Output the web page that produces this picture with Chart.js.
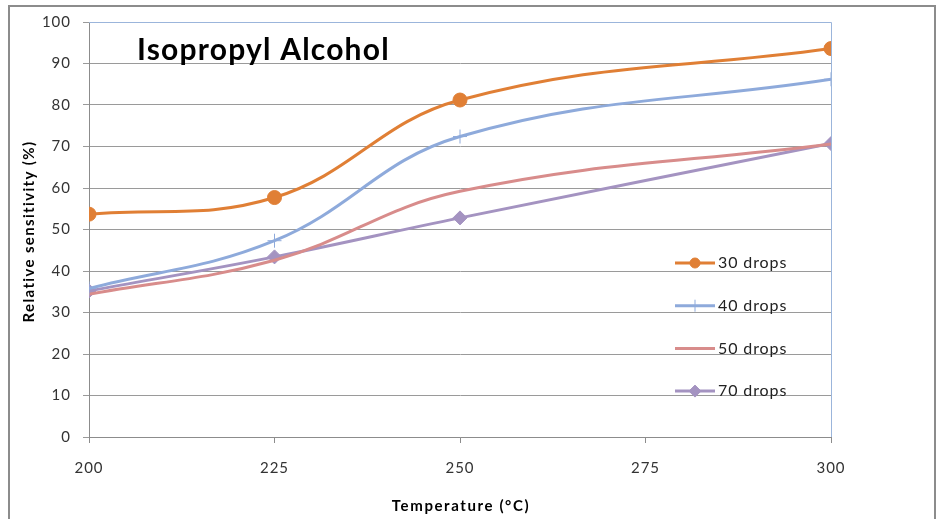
<!DOCTYPE html>
<html>
<head>
<meta charset="utf-8">
<title>Isopropyl Alcohol</title>
<script src="https://cdn.jsdelivr.net/npm/chart.js@4.4.0/dist/chart.umd.min.js"></script>
<style>
  html, body { margin: 0; padding: 0; background: #fff; }
  #wrap { width: 937px; height: 519px; }
</style>
</head>
<body>
<div id="wrap"><canvas id="sensChart" width="937" height="519"></canvas></div>
<script>
// Datos
const temperatures = [200, 225, 250, 300];
const drops30 = [53.7, 57.7, 81.2, 93.6];
const drops40 = [35.8, 47.3, 72.4, 86.2];
const drops50 = [34.4, 42.6, 59.2, 70.6];
const drops70 = [35.2, 43.4, 52.8, 70.7];
const seriesLabels = ['30 drops', '40 drops', '50 drops', '70 drops'];
const xTicks = [200, 225, 250, 275, 300];
const yTicks = [0, 10, 20, 30, 40, 50, 60, 70, 80, 90, 100];

const FONT = 'Lato, "Open Sans", sans-serif';

function toPoints(values) {
    return temperatures.map((t, i) => ({ x: t, y: values[i] }));
}

// Marco, borde del área, títulos y leyenda dibujados a mano
const decorPlugin = {
    id: 'decor',
    beforeDraw(chart) {
        const ctx = chart.ctx;
        ctx.save();
        ctx.fillStyle = '#fff';
        ctx.fillRect(0, 0, chart.width, chart.height);
        ctx.strokeStyle = '#8c8c8c';
        ctx.lineWidth = 2;
        ctx.strokeRect(9, 6, 926, 560);
        ctx.restore();
        // las etiquetas de los ejes van algo más espaciadas
        ctx.letterSpacing = '1px';
    },
    beforeDatasetsDraw(chart) {
        const { ctx, chartArea: a } = chart;
        ctx.save();
        ctx.strokeStyle = '#9bb5db';
        ctx.lineWidth = 1;
        ctx.beginPath();
        ctx.moveTo(a.left, a.top + 0.5);
        ctx.lineTo(a.right + 0.5, a.top + 0.5);
        ctx.lineTo(a.right + 0.5, a.bottom);
        ctx.stroke();
        ctx.restore();
    },
    afterDraw(chart) {
        const { ctx, chartArea: a } = chart;
        ctx.save();
        ctx.fillStyle = '#000';
        ctx.textAlign = 'left';

        // título dentro del área
        ctx.font = 'bold 30px ' + FONT;
        ctx.letterSpacing = '1.2px';
        ctx.textBaseline = 'alphabetic';
        ctx.fillText('Isopropyl Alcohol', a.left + 48, a.top + 38);

        // títulos de los ejes
        ctx.font = 'bold 15px ' + FONT;
        ctx.letterSpacing = '1.6px';
        ctx.textAlign = 'center';
        ctx.textBaseline = 'middle';
        ctx.fillText('Temperature (°C)', (a.left + a.right) / 2 + 1, a.bottom + 69);

        ctx.save();
        ctx.letterSpacing = '1.35px';
        ctx.translate(29, (a.top + a.bottom) / 2 + 2);
        ctx.rotate(-Math.PI / 2);
        ctx.fillText('Relative sensitivity (%)', 0, 0);
        ctx.restore();

        // leyenda
        ctx.textAlign = 'left';
        const lx = a.right - 156;
        chart.data.datasets.forEach((ds, i) => {
            const y = a.top + 241 + i * 42.7;
            ctx.strokeStyle = ds.borderColor;
            ctx.lineWidth = 3;
            ctx.beginPath();
            ctx.moveTo(lx, y);
            ctx.lineTo(lx + 40, y);
            ctx.stroke();
            if (ds.pointStyle) {
                ctx.fillStyle = ds.pointBackgroundColor;
                ctx.strokeStyle = ds.pointBorderColor;
                ctx.lineWidth = ds.pointBorderWidth;
                Chart.helpers.drawPoint(ctx, {
                    pointStyle: ds.pointStyle,
                    radius: ds.legendRadius,
                    rotation: 0,
                    borderWidth: ds.pointBorderWidth
                }, lx + 20, y);
            }
            ctx.fillStyle = '#222';
            ctx.font = '16px ' + FONT;
            ctx.letterSpacing = '0.9px';
            ctx.textBaseline = 'middle';
            ctx.fillText(ds.label, lx + 43, y);
        });
        ctx.restore();
    }
};

const ctx = document.getElementById('sensChart').getContext('2d');
new Chart(ctx, {
    type: 'line',
    data: {
        datasets: [{
            label: seriesLabels[0],
            data: toPoints(drops30),
            borderColor: '#e07f35',
            pointStyle: 'circle',
            pointRadius: 7,
            legendRadius: 5,
            pointBackgroundColor: '#e07f35',
            pointBorderColor: '#e07f35',
            pointBorderWidth: 1
        }, {
            label: seriesLabels[1],
            data: toPoints(drops40),
            borderColor: '#8eaadb',
            pointStyle: 'cross',
            pointRadius: 7,
            legendRadius: 6,
            pointBackgroundColor: '#8eaadb',
            pointBorderColor: '#8eaadb',
            pointBorderWidth: 1
        }, {
            label: seriesLabels[2],
            data: toPoints(drops50),
            borderColor: '#d88c8b',
            pointStyle: false,
            pointRadius: 0,
            legendRadius: 0,
            pointBackgroundColor: '#d88c8b',
            pointBorderColor: '#d88c8b',
            pointBorderWidth: 1
        }, {
            label: seriesLabels[3],
            data: toPoints(drops70),
            borderColor: '#a493c1',
            pointStyle: 'rectRot',
            pointRadius: 7,
            legendRadius: 6,
            pointBackgroundColor: '#a493c1',
            pointBorderColor: '#a493c1',
            pointBorderWidth: 1
        }]
    },
    options: {
        responsive: false,
        animation: false,
        devicePixelRatio: 1,
        layout: { padding: { left: 9, top: 22, right: 106, bottom: 0 } },
        elements: {
            line: { tension: 0.4, borderWidth: 3, fill: false },
            point: { hoverRadius: 7 }
        },
        plugins: {
            legend: { display: false },
            tooltip: { enabled: false }
        },
        scales: {
            x: {
                type: 'linear',
                min: 200,
                max: 300,
                afterFit: s => { s.height = 82; },
                afterBuildTicks: s => { s.ticks = xTicks.map(v => ({ value: v })); },
                grid: { drawOnChartArea: false, drawTicks: true, tickLength: 6, color: '#8c8c8c' },
                border: { color: '#8c8c8c' },
                ticks: { color: '#333', font: { family: FONT, size: 15 }, padding: 16 }
            },
            y: {
                min: 0,
                max: 100,
                afterFit: s => { s.width = 80; },
                afterBuildTicks: s => { s.ticks = yTicks.map(v => ({ value: v })); },
                grid: { color: '#9a9a9a', tickLength: 6 },
                border: { color: '#8c8c8c' },
                ticks: { color: '#333', font: { family: FONT, size: 15 }, padding: 12 }
            }
        }
    },
    plugins: [decorPlugin]
});
</script>
</body>
</html>
